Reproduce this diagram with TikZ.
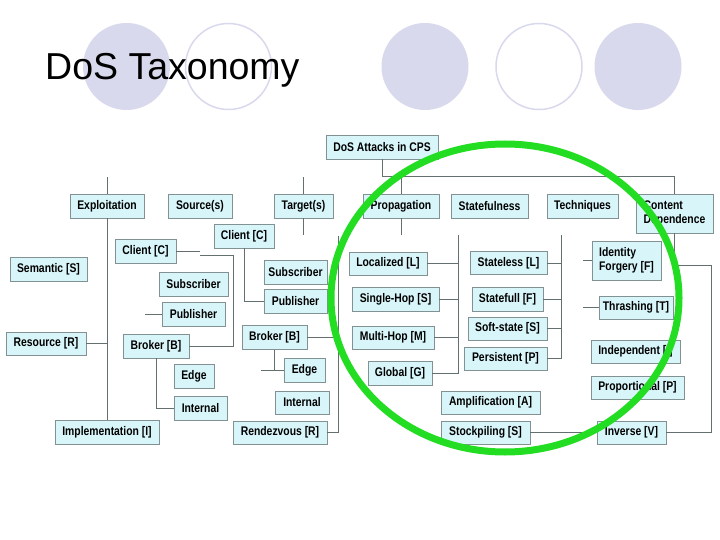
\documentclass[tikz,border=0pt]{standalone}
\usepackage{fontspec}
\setmainfont{Liberation Sans}
\newfontfamily\bxfont[FakeStretch=0.83]{Liberation Sans}
\definecolor{boxfill}{RGB}{216,246,250}
\definecolor{boxline}{RGB}{130,145,145}
\definecolor{conn}{RGB}{100,112,112}
\definecolor{lav}{RGB}{217,217,237}
\definecolor{hl}{RGB}{34,221,34}
\tikzset{
  bx/.style={draw=boxline, fill=boxfill, line width=0.6pt, inner sep=0pt,
    font=\bxfont\bfseries\fontsize{12.5}{14}\selectfont, text=black},
  cn/.style={draw=conn, line width=0.8pt},
  deco/.style={fill=lav, draw=none},
  decoring/.style={draw=lav, line width=1.5pt},
}
\newcommand\bxn[7][]{\node[bx,#1,minimum width=#5pt,minimum height=#6pt] (#2) at (#3,#4) {#7};}
\begin{document}
\begin{tikzpicture}[x=1pt,y=-1pt]
\useasboundingbox (0,0) rectangle (720,540);
\fill[white] (0,0) rectangle (720,540);
% decorative circles
\fill[deco] (126.5,66.5) circle[radius=43.5];
\draw[decoring] (228.5,66.5) circle[radius=43];
\fill[deco] (425,66.5) circle[radius=43.5];
\draw[decoring] (539,66.5) circle[radius=43];
\fill[deco] (638,66.5) circle[radius=43.5];
\node[anchor=base west, inner sep=0pt, font=\fontsize{37.5}{40}\selectfont] (title) at (45,80) {DoS Taxonomy};

% boxes
\bxn{dos}{382}{147}{112}{24}{DoS Attacks in CPS}
\bxn{expl}{107}{206}{74}{24}{Exploitation}
\bxn{src}{200}{206}{64}{24}{Source(s)}
\bxn{tgt}{303.5}{206}{59}{24}{Target(s)}
\bxn{prop}{401}{206}{76}{24}{Propagation}
\bxn{statef}{489.5}{206}{77}{24}{Statefulness}
\bxn{tech}{582.5}{206}{71}{24}{Techniques}
\bxn[align=left]{cdep}{674.5}{213.5}{77}{39}{Content\\Dependence}
\bxn{semantic}{48.5}{269}{77}{24}{Semantic [S]}
\bxn{clientL}{145.5}{251}{61}{24}{Client [C]}
\bxn{clientM}{244}{236}{60}{24}{Client [C]}
\bxn{subL}{193.5}{284}{69}{24}{Subscriber}
\bxn{pubL}{193.5}{314}{63}{24}{Publisher}
\bxn{subM}{295.5}{272}{63}{24}{Subscriber}
\bxn{pubM}{295.5}{301}{63}{24}{Publisher}
\bxn{resource}{46}{343.5}{80}{23}{Resource [R]}
\bxn{brokerL}{156}{346}{66}{24}{Broker [B]}
\bxn{brokerM}{274.5}{337.5}{65}{24}{Broker [B]}
\bxn{edgeL}{194}{376}{40}{24}{Edge}
\bxn{internalL}{200.5}{408}{53}{24}{Internal}
\bxn{edgeM}{304.5}{370}{41}{24}{Edge}
\bxn{internalM}{302}{402.5}{54}{23}{Internal}
\bxn{impl}{107}{432}{104}{24}{Implementation [I]}
\bxn{rendez}{280}{432.5}{94}{23}{Rendezvous [R]}
\bxn{localized}{388}{263.5}{78}{23}{Localized [L]}
\bxn{single}{395.5}{299}{87}{24}{Single-Hop [S]}
\bxn{multi}{393}{337.5}{82}{23}{Multi-Hop [M]}
\bxn{global}{400}{373}{64}{24}{Global [G]}
\bxn{stateless}{508.5}{263}{77}{23}{Stateless [L]}
\bxn{statefull}{507.5}{299}{71}{24}{Statefull [F]}
\bxn{softstate}{507.5}{328.5}{79}{23}{Soft-state [S]}
\bxn{persistent}{505.5}{358.5}{83}{23}{Persistent [P]}
\bxn[align=left]{identity}{626.5}{260.5}{69}{39}{Identity\\Forgery [F]}
\bxn{thrashing}{636}{307.5}{74}{23}{Thrashing [T]}
\bxn{independent}{635.5}{351.5}{89}{23}{Independent [I]}
\bxn{proportional}{637.5}{387.5}{93}{23}{Proportional [P]}
\bxn{amplif}{490.5}{402.5}{99}{23}{Amplification [A]}
\bxn{stockpile}{485.5}{432.5}{89}{23}{Stockpiling [S]}
\bxn{inverse}{631.5}{432.5}{69}{23}{Inverse [V]}

% connector coordinates
\coordinate (bus) at (382,176);
\coordinate (cl1) at (200,255);
\coordinate (cl2) at (233,255);
\coordinate (tv) at (338,236);
\coordinate (em) at (261,370);
\coordinate (pv) at (458,235);
\coordinate (sv) at (561,235);
\coordinate (c1) at (711,265);

% connectors
\draw[cn] (dos.south) -- (bus) -| (cdep.north);
\draw[cn] (prop.north) -- (prop.north |- bus);
\draw[cn] (expl.north) -- ++(0,-17);
\draw[cn] (tgt.north) -- ++(0,-17);
\draw[cn] (expl.south) -- (impl.north);
\draw[cn] (resource.east) -- (resource.east -| expl.south);
\draw[cn] (clientL.east) -- ++(24,0);
\draw[cn] (cl1) -- (cl2) |- (brokerL.east);
\draw[cn] (pubL.west) -- ++(-17,0);
\draw[cn] (brokerL.south) |- (internalL.west);
\draw[cn] (clientM.south) |- (pubM.west);
\draw[cn] (tgt.south) -- ++(0,17);
\draw[cn] (tv) |- (rendez.east);
\draw[cn] (brokerM.east) -- (brokerM.east -| tv);
\draw[cn] (brokerM.south) -- (brokerM.south |- edgeM.west);
\draw[cn] (em) -- (edgeM.west);
\draw[cn] (prop.south) -- ++(0,17);
\draw[cn] (pv) |- (global.east);
\draw[cn] (localized.east) -- (localized.east -| pv);
\draw[cn] (single.east) -- (single.east -| pv);
\draw[cn] (multi.east) -- (multi.east -| pv);
\draw[cn] (sv) |- (persistent.east);
\draw[cn] (stateless.east) -- (stateless.east -| sv);
\draw[cn] (statefull.east) -- (statefull.east -| sv);
\draw[cn] (softstate.east) -- (softstate.east -| sv);
\draw[cn] (identity.west) -- ++(-9,0);
\draw[cn] (thrashing.west) -- ++(-16,0);
\draw[cn] (cdep.south) |- (c1) |- (inverse.east);
\draw[cn] (stockpile.east) -- (inverse.west);

% green highlight
\draw[hl, line width=7pt] (505,298) ellipse[x radius=174, y radius=154];
\end{tikzpicture}
\end{document}
